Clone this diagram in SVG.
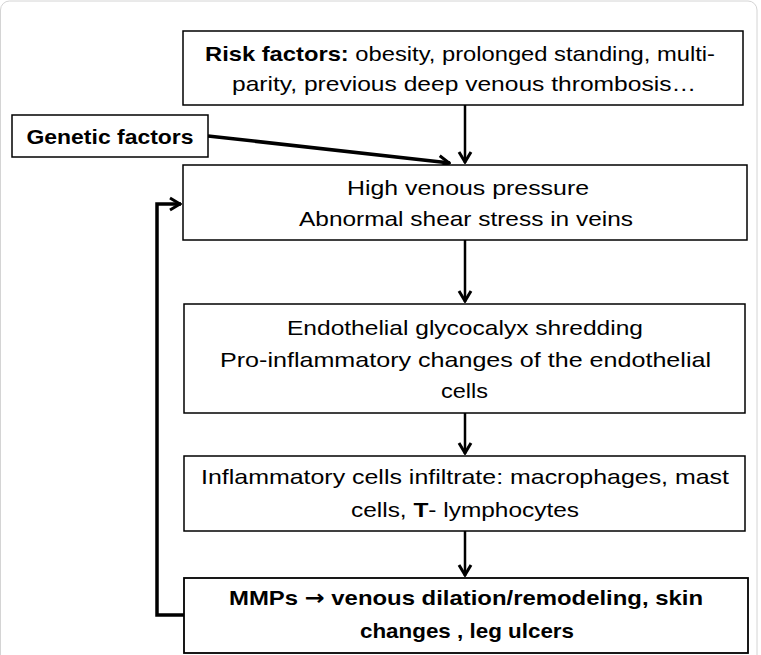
<svg xmlns="http://www.w3.org/2000/svg" width="761" height="655" viewBox="0 0 761 655">
<style>
  .box { fill: #ffffff; stroke: #000000; stroke-width: 1.5; }
  .t { font-family: "Liberation Sans", Arial, sans-serif; font-size: 21px; fill: #000000; text-anchor: middle; }
  .b { font-weight: bold; }
  .sym { font-family: "DejaVu Sans", sans-serif; font-weight: bold; }
  .conn { fill: none; stroke: #000000; stroke-width: 2.5; }
  .thick { stroke-width: 3.5; }
</style>
<defs>
  <marker id="arr" viewBox="-12 -8 14 16" markerWidth="14" markerHeight="16" refX="1" refY="0" orient="auto" markerUnits="userSpaceOnUse">
    <path d="M-10,-6 L0,0 L-10,6" fill="none" stroke="#000000" stroke-width="3"/>
  </marker>
</defs>
<rect x="0.5" y="1" width="756.5" height="700" rx="9" fill="#ffffff" stroke="#d4d4d4" stroke-width="1"/>

<g id="connectors">
  <line class="conn" x1="465" y1="105" x2="465" y2="163" marker-end="url(#arr)"/>
  <line class="conn thick" x1="208" y1="136" x2="450" y2="163" marker-end="url(#arr)"/>
  <line class="conn" x1="465" y1="240" x2="465" y2="302" marker-end="url(#arr)"/>
  <line class="conn" x1="465" y1="413" x2="465" y2="454" marker-end="url(#arr)"/>
  <line class="conn" x1="465" y1="531" x2="465" y2="576" marker-end="url(#arr)"/>
  <path class="conn thick" d="M184,615 H157 V204 H181" marker-end="url(#arr)"/>
</g>

<g id="risk-factors">
  <rect class="box" x="183" y="31" width="560" height="74"/>
  <text class="t" x="460" y="61" textLength="510" lengthAdjust="spacingAndGlyphs"><tspan class="b">Risk factors:</tspan> obesity, prolonged standing, multi-</text>
  <text class="t" x="464" y="91" textLength="464" lengthAdjust="spacingAndGlyphs">parity, previous deep venous thrombosis…</text>
</g>

<g id="genetic-factors">
  <rect class="box" x="12" y="115" width="196" height="42"/>
  <text class="t b" x="110" y="144" textLength="167" lengthAdjust="spacingAndGlyphs">Genetic factors</text>
</g>

<g id="venous-pressure">
  <rect class="box" x="183" y="165" width="564" height="75"/>
  <text class="t" x="468" y="195" textLength="242" lengthAdjust="spacingAndGlyphs">High venous pressure</text>
  <text class="t" x="466" y="226" textLength="334" lengthAdjust="spacingAndGlyphs">Abnormal shear stress in veins</text>
</g>

<g id="glycocalyx">
  <rect class="box" x="184" y="304" width="561" height="109"/>
  <text class="t" x="465" y="335" textLength="356" lengthAdjust="spacingAndGlyphs">Endothelial glycocalyx shredding</text>
  <text class="t" x="465.5" y="367" textLength="491" lengthAdjust="spacingAndGlyphs">Pro-inflammatory changes of the endothelial</text>
  <text class="t" x="464.5" y="398" textLength="47" lengthAdjust="spacingAndGlyphs">cells</text>
</g>

<g id="inflammatory-cells">
  <rect class="box" x="184" y="456" width="561" height="75"/>
  <text class="t" x="465" y="484" textLength="528" lengthAdjust="spacingAndGlyphs">Inflammatory cells infiltrate: macrophages, mast</text>
  <text class="t" x="465" y="517" textLength="228" lengthAdjust="spacingAndGlyphs">cells, <tspan class="b">T</tspan>- lymphocytes</text>
</g>

<g id="mmps">
  <rect class="box" x="184" y="578" width="564" height="75" style="stroke-width:1.8"/>
  <text class="t b" x="466" y="605" textLength="474" lengthAdjust="spacingAndGlyphs">MMPs <tspan class="sym">→</tspan> venous dilation/remodeling, skin</text>
  <text class="t b" x="467" y="638" textLength="214" lengthAdjust="spacingAndGlyphs">changes , leg ulcers</text>
</g>
</svg>
